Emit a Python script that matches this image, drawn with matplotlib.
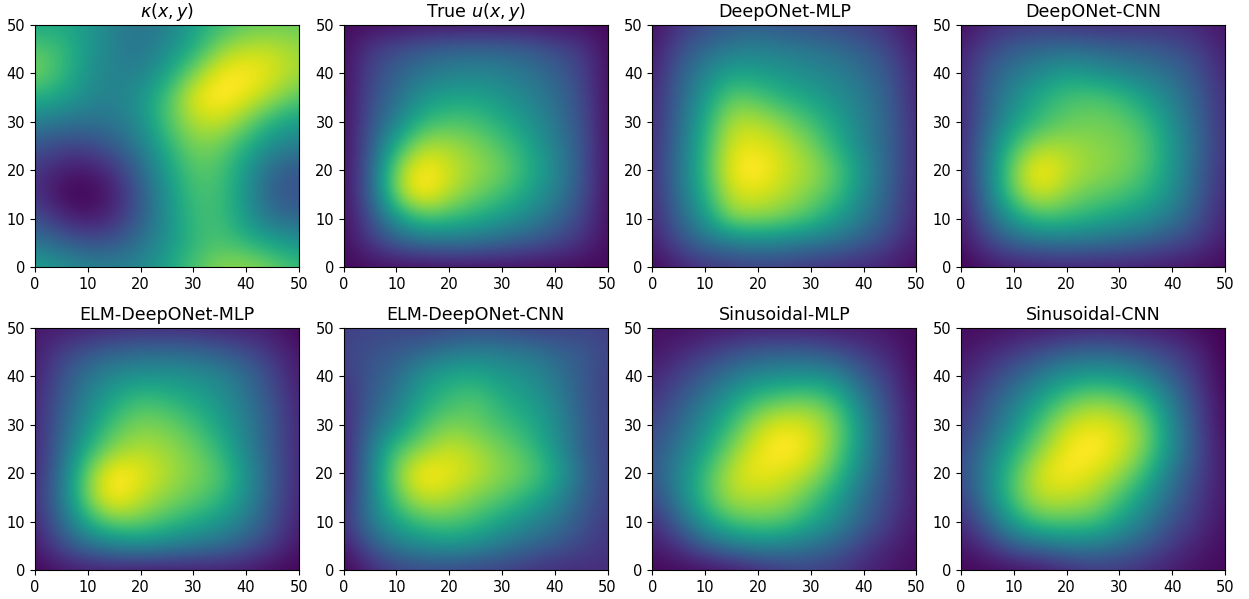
import numpy as np
import matplotlib
matplotlib.use("Agg")
import matplotlib.pyplot as plt

# values on a coarse grid, x = 0,5,...,50 (left to right), y = 50,45,...,0 (top to bottom)
grid_ticks = [0, 10, 20, 30, 40, 50]

kappa = [
    [.56, .58, .52, .42, .36, .42, .55, .65, .72, .74, .74],
    [.72, .66, .52, .42, .38, .46, .60, .80, .88, .88, .82],
    [.78, .66, .50, .42, .42, .56, .78, .96, .98, .92, .84],
    [.62, .56, .46, .42, .50, .68, .94, 1.0, .94, .84, .72],
    [.42, .38, .36, .38, .48, .70, .86, .90, .78, .62, .54],
    [.26, .20, .20, .28, .40, .62, .78, .76, .62, .46, .40],
    [.16, .08, .06, .14, .32, .54, .72, .70, .52, .32, .26],
    [.14, .02, .00, .08, .26, .50, .68, .68, .50, .28, .24],
    [.24, .12, .06, .12, .28, .48, .66, .68, .52, .36, .32],
    [.38, .30, .24, .26, .36, .50, .64, .70, .64, .56, .50],
    [.56, .50, .44, .42, .46, .56, .70, .80, .82, .76, .66],
]

true_u = [
    [.03, .03, .03, .04, .04, .04, .04, .04, .03, .03, .02],
    [.03, .16, .22, .27, .30, .31, .30, .28, .22, .16, .03],
    [.03, .20, .30, .38, .42, .44, .42, .37, .30, .20, .03],
    [.03, .22, .35, .50, .56, .56, .50, .44, .35, .22, .03],
    [.03, .24, .44, .64, .70, .68, .60, .50, .38, .24, .03],
    [.03, .26, .62, .86, .84, .78, .70, .58, .42, .26, .03],
    [.03, .28, .82, 1.0, .90, .82, .76, .62, .46, .26, .03],
    [.03, .28, .82, 1.0, .86, .76, .68, .56, .42, .24, .03],
    [.03, .22, .52, .70, .66, .60, .52, .44, .33, .20, .03],
    [.03, .15, .27, .33, .35, .34, .30, .26, .20, .13, .03],
    [.02, .03, .03, .03, .03, .03, .03, .03, .03, .02, .02],
]

deeponet_mlp = [
    [.03, .14, .22, .26, .28, .24, .22, .20, .17, .12, .03],
    [.06, .22, .32, .40, .42, .40, .38, .34, .28, .20, .07],
    [.08, .28, .44, .56, .54, .50, .46, .42, .35, .26, .09],
    [.10, .30, .52, .74, .70, .62, .56, .48, .40, .28, .10],
    [.11, .32, .60, .86, .86, .78, .68, .56, .42, .30, .11],
    [.12, .34, .64, .92, .94, .88, .78, .62, .44, .30, .12],
    [.12, .36, .66, .96, 1.0, .90, .84, .72, .50, .30, .12],
    [.12, .34, .62, .90, .92, .86, .78, .68, .46, .28, .11],
    [.10, .30, .52, .80, .80, .76, .68, .54, .40, .26, .10],
    [.07, .22, .34, .40, .44, .42, .38, .34, .27, .18, .07],
    [.02, .08, .14, .16, .17, .16, .14, .12, .10, .08, .03],
]

deeponet_cnn = [
    [.03, .10, .14, .15, .13, .12, .11, .12, .12, .10, .04],
    [.08, .20, .28, .32, .34, .32, .30, .28, .24, .18, .08],
    [.10, .28, .38, .46, .54, .50, .44, .40, .34, .24, .10],
    [.10, .30, .46, .60, .68, .70, .66, .54, .42, .28, .12],
    [.10, .32, .54, .66, .74, .76, .74, .66, .48, .30, .13],
    [.10, .38, .68, .84, .84, .80, .78, .72, .52, .32, .14],
    [.10, .40, .80, 1.0, .88, .82, .78, .70, .52, .30, .12],
    [.08, .38, .76, .92, .80, .74, .70, .62, .48, .28, .11],
    [.06, .30, .54, .68, .66, .60, .54, .48, .38, .24, .09],
    [.04, .18, .30, .34, .36, .34, .32, .28, .22, .16, .06],
    [.00, .05, .07, .08, .08, .08, .08, .07, .06, .04, .02],
]

elm_mlp = [
    [.06, .07, .08, .10, .11, .11, .10, .08, .08, .06, .01],
    [.07, .18, .25, .30, .32, .33, .32, .28, .22, .14, .05],
    [.08, .24, .37, .46, .50, .50, .48, .44, .34, .20, .07],
    [.10, .27, .44, .58, .68, .64, .58, .50, .38, .24, .09],
    [.10, .30, .50, .70, .78, .76, .68, .56, .42, .26, .10],
    [.10, .32, .62, .80, .86, .82, .76, .64, .44, .26, .10],
    [.10, .36, .78, 1.0, .94, .86, .78, .72, .50, .28, .10],
    [.12, .38, .80, 1.0, .88, .80, .74, .66, .48, .26, .10],
    [.10, .32, .62, .78, .76, .68, .60, .52, .40, .24, .08],
    [.06, .22, .34, .42, .46, .42, .38, .34, .26, .16, .05],
    [.01, .05, .07, .07, .05, .06, .06, .07, .06, .03, .01],
]

elm_cnn = [
    [.18, .20, .20, .18, .20, .21, .20, .17, .17, .19, .18],
    [.20, .24, .27, .32, .38, .42, .40, .38, .32, .27, .20],
    [.16, .26, .34, .50, .58, .58, .52, .48, .38, .28, .18],
    [.12, .28, .40, .58, .66, .72, .60, .54, .44, .28, .18],
    [.10, .32, .48, .68, .78, .74, .68, .60, .48, .30, .18],
    [.08, .38, .70, .80, .90, .84, .76, .68, .50, .30, .18],
    [.06, .42, .80, 1.0, .94, .88, .80, .74, .60, .34, .18],
    [.10, .40, .74, .90, .86, .78, .72, .62, .48, .30, .18],
    [.12, .40, .58, .70, .72, .66, .56, .46, .38, .26, .16],
    [.06, .26, .40, .46, .50, .46, .38, .32, .26, .20, .14],
    [.00, .10, .18, .20, .20, .18, .18, .14, .12, .12, .13],
]

sin_mlp = [
    [.04, .04, .05, .06, .07, .07, .07, .06, .06, .05, .02],
    [.05, .10, .16, .22, .27, .28, .27, .23, .16, .10, .02],
    [.10, .18, .28, .38, .46, .48, .50, .44, .28, .16, .02],
    [.14, .26, .38, .54, .68, .74, .76, .66, .40, .20, .04],
    [.20, .32, .48, .66, .86, .94, .90, .78, .48, .22, .04],
    [.24, .38, .56, .78, .94, 1.0, .94, .76, .48, .22, .05],
    [.26, .44, .66, .88, .96, .92, .86, .68, .42, .22, .06],
    [.20, .42, .68, .86, .86, .84, .72, .56, .34, .20, .07],
    [.12, .30, .54, .70, .74, .72, .60, .46, .30, .17, .06],
    [.06, .14, .28, .38, .44, .42, .36, .30, .18, .10, .04],
    [.02, .02, .03, .05, .10, .16, .18, .16, .10, .06, .03],
]

sin_cnn = [
    [.03, .03, .05, .06, .07, .08, .08, .07, .05, .02, .00],
    [.05, .10, .16, .22, .28, .31, .29, .24, .18, .10, .00],
    [.08, .18, .28, .40, .50, .54, .52, .42, .28, .14, .00],
    [.12, .26, .40, .56, .72, .80, .76, .64, .40, .18, .02],
    [.16, .30, .48, .70, .88, .94, .90, .78, .46, .20, .02],
    [.20, .38, .60, .80, .96, 1.0, .92, .78, .48, .22, .04],
    [.22, .44, .70, .92, .98, .92, .84, .66, .38, .20, .05],
    [.18, .42, .72, .88, .88, .84, .70, .52, .32, .17, .05],
    [.12, .30, .56, .72, .72, .70, .56, .40, .24, .14, .04],
    [.05, .14, .28, .34, .40, .40, .34, .26, .16, .08, .03],
    [.02, .02, .03, .05, .10, .15, .15, .12, .07, .04, .02],
]

panels = [kappa, true_u, deeponet_mlp, deeponet_cnn, elm_mlp, elm_cnn, sin_mlp, sin_cnn]
titles = [r"$\kappa(x, y)$", r"True $u(x, y)$", "DeepONet-MLP", "DeepONet-CNN",
          "ELM-DeepONet-MLP", "ELM-DeepONet-CNN", "Sinusoidal-MLP", "Sinusoidal-CNN"]

fig, axes = plt.subplots(2, 4, figsize=(12.49, 5.99), dpi=100)
fig.subplots_adjust(left=35 / 1249, right=1225 / 1249, top=1 - 25 / 599, bottom=1 - 570 / 599,
                    wspace=0.17, hspace=0.252)

for ax, values, title in zip(axes.flat, panels, titles):
    # half a cell extra on each side, so the grid values sit on 0,5,...,50
    ax.imshow(values, cmap="viridis", vmin=0, vmax=0.97, extent=[-2.5, 52.5, -2.5, 52.5],
              interpolation="bicubic", aspect="auto")
    ax.set_xlim(0, 50)
    ax.set_ylim(0, 50)
    ax.set_xticks(grid_ticks)
    ax.set_yticks(grid_ticks)
    ax.tick_params(labelsize=10.5)
    ax.set_title(title, fontsize=12.6)

fig.savefig("out.png", dpi=100)
